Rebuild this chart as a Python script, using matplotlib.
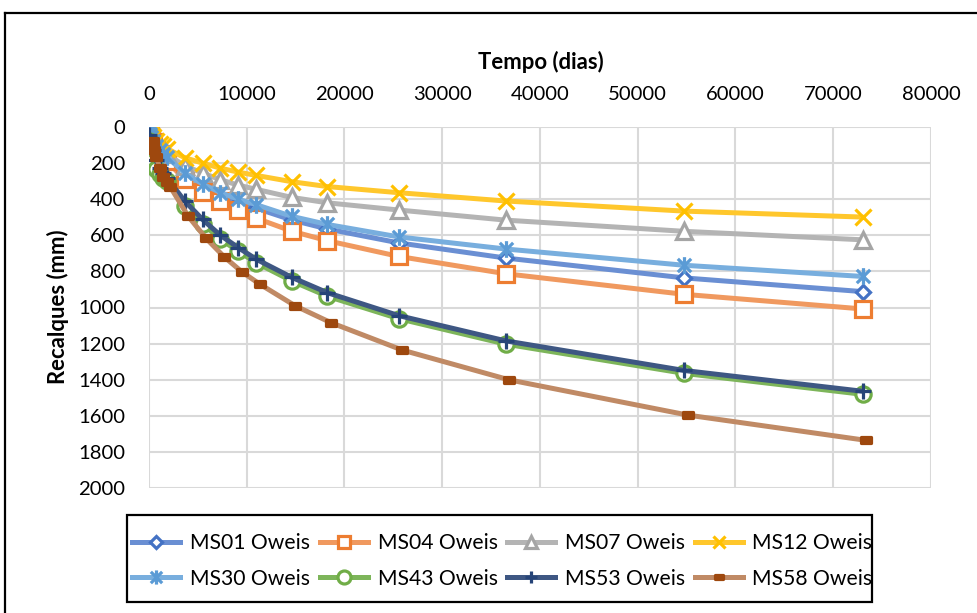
import matplotlib
matplotlib.use("Agg")
import matplotlib.pyplot as plt
from matplotlib.path import Path
from matplotlib.lines import Line2D
from matplotlib.patches import Rectangle

# Time points (days) for each settlement series
dias = [0, 90, 180, 365, 730, 1095, 1460, 1825, 3650, 5475, 7300, 9125, 10950,
        14600, 18250, 25550, 36500, 54750, 73000]
dias_ms58 = [365, 455, 545, 730, 1095, 1460, 1825, 2190, 4015, 5840, 7665, 9490, 11315,
             14965, 18615, 25915, 36865, 55115, 73365]

# Settlements (mm)
ms01 = [20, 42, 58, 78, 110, 138, 156, 172, 265, 330, 380, 420, 450, 515, 565, 642, 726, 836, 912]
ms04 = [15, 40, 60, 85, 122, 152, 172, 190, 290, 360, 412, 462, 505, 577, 630, 717, 813, 927, 1008]
ms07 = [20, 35, 48, 65, 90, 112, 132, 150, 215, 255, 292, 322, 345, 390, 420, 460, 516, 578, 625]
ms12 = [25, 35, 45, 55, 75, 92, 107, 120, 170, 200, 228, 250, 268, 303, 330, 364, 410, 466, 499]
ms30 = [20, 40, 55, 75, 105, 130, 148, 165, 255, 316, 363, 400, 430, 495, 540, 609, 676, 766, 828]
ms43 = [80, 120, 150, 190, 235, 262, 282, 300, 435, 535, 622, 688, 752, 853, 938, 1062, 1203, 1365, 1481]
ms53 = [45, 75, 100, 130, 185, 225, 255, 282, 410, 512, 600, 668, 732, 833, 918, 1045, 1185, 1349, 1464]
ms58 = [75, 100, 125, 165, 225, 275, 305, 333, 495, 617, 718, 802, 870, 991, 1084, 1236, 1401, 1596, 1736]

labels = ["MS01 Oweis", "MS04 Oweis", "MS07 Oweis", "MS12 Oweis",
          "MS30 Oweis", "MS43 Oweis", "MS53 Oweis", "MS58 Oweis"]
x_ticks = [0, 10000, 20000, 30000, 40000, 50000, 60000, 70000, 80000]
y_ticks = [0, 200, 400, 600, 800, 1000, 1200, 1400, 1600, 1800, 2000]

plt.rcParams['font.family'] = ['Lato', 'DejaVu Sans']
FS = 14.6
FS_TITLE = 15.9
FS_LEG = 15.2

W, H = 978, 613
fig = plt.figure(figsize=(W / 100, H / 100), dpi=100)

def fx(px):
    return px / W

def fy(py):
    return 1 - py / H

ax = fig.add_axes([fx(149), fy(488), fx(931) - fx(149), fy(127) - fy(488)])

# custom markers
star = Path([(0, -1), (0, 1), (-0.8, -0.8), (0.8, 0.8), (-0.8, 0.8), (0.8, -0.8)],
            [Path.MOVETO, Path.LINETO, Path.MOVETO, Path.LINETO, Path.MOVETO, Path.LINETO])
dash = Path([(-1, -0.5), (1, -0.5), (1, 0.5), (-1, 0.5), (-1, -0.5)],
            [Path.MOVETO, Path.LINETO, Path.LINETO, Path.LINETO, Path.CLOSEPOLY])

series = [
    (dias, ms01, "#6A8FD3", "#4472C4", "D", 7.5, "white"),
    (dias, ms04, "#F0995F", "#ED7D31", "s", 11, "white"),
    (dias, ms07, "#B4B4B4", "#A5A5A5", "^", 11, "white"),
    (dias, ms12, "#FFC72C", "#FFC000", "x", 11, "none"),
    (dias, ms30, "#78AEDE", "#5B9BD5", star, 12, "none"),
    (dias, ms43, "#7DB55A", "#70AD47", "o", 11, "white"),
    (dias, ms53, "#3E5783", "#264478", "+", 11, "none"),
    (dias_ms58, ms58, "#C08A65", "#9E480E", dash, 7.5, "#9E480E"),
]

handles = []
for i, (xs, ys, lc, mc, mk, ms, mfc) in enumerate(series):
    ax.plot(xs, ys, color=lc, lw=3.6, solid_capstyle='round', zorder=2 + i)
    ax.plot(xs, ys, ls='none', marker=mk, ms=ms, mec=mc, mfc=mfc, mew=2.3,
            zorder=2 + i)
    handles.append(Line2D([0], [0], color=lc, lw=3.6, marker=mk, ms=ms * 0.85,
                          mec=mc, mfc=mfc, mew=2.3))

ax.set_xlim(0, 80000)
ax.set_ylim(2000, 0)
ax.set_xticks(x_ticks)
ax.set_yticks(y_ticks)
ax.set_xticklabels([str(v) for v in x_ticks])
ax.set_yticklabels([str(v) for v in y_ticks])
ax.xaxis.tick_top()
ax.tick_params(axis='both', length=0, labelsize=FS, colors='black')
ax.tick_params(axis='x', pad=17)
ax.tick_params(axis='y', pad=17)
ax.grid(True, color='#D9D9D9', lw=1.5)
ax.set_axisbelow(True)
for s in ax.spines.values():
    s.set_visible(False)

fig.text(fx(541), fy(62), "Tempo (dias)", ha='center', va='center',
         fontsize=FS_TITLE, fontweight='bold')
fig.text(fx(58), fy(307), "Recalques (mm)", ha='center', va='center',
         rotation=90, fontsize=FS_TITLE, fontweight='bold')

# outer chart border
fig.add_artist(Line2D([fx(5), fx(5)], [fy(13), fy(620)], color='black', lw=1.6))
fig.add_artist(Line2D([fx(5), fx(990)], [fy(13), fy(13)], color='black', lw=1.6))

# legend: entries laid out row by row (matplotlib fills columns first)
ncol, nrow = 4, 2
order = [r * ncol + c for c in range(ncol) for r in range(nrow)]
leg = fig.legend([handles[k] for k in order], [labels[k] for k in order],
                 ncol=ncol, frameon=False, fontsize=FS_LEG,
                 loc='center', bbox_to_anchor=(fx(502.5), fy(561)),
                 handlelength=2.27, handletextpad=0.47, columnspacing=0.45,
                 labelspacing=0.72, borderpad=0.0)
fig.add_artist(Rectangle((fx(127), fy(602)), fx(872) - fx(127), fy(515) - fy(602),
                         fill=False, ec='black', lw=1.6, transform=fig.transFigure))

fig.savefig("out.png", dpi=100)
